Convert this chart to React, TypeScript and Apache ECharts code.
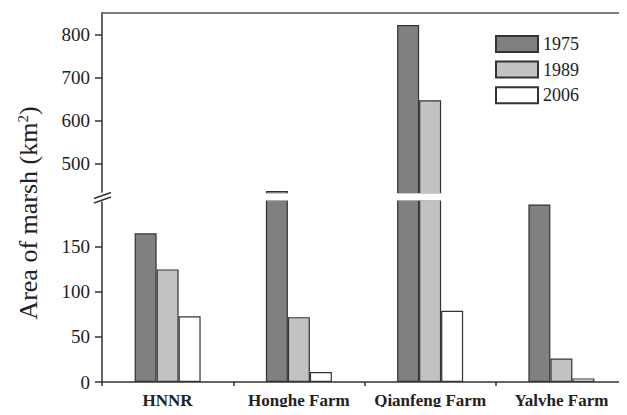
import React, { useEffect, useRef } from "react";
import * as echarts from "echarts";

const categories = ["HNNR", "Honghe Farm", "Qianfeng Farm", "Yalvhe Farm"];
const years = ["1975", "1989", "2006"];
const values1975 = [165, 437, 823, 197];
const values1989 = [125, 72, 648, 26];
const values2006 = [73, 11, 79, 4];
const upperTicks = [500, 600, 700, 800];
const lowerTicks = [0, 50, 100, 150];
const upperMin = 431;
const upperMax = 851;
const lowerMin = 0;
const lowerMax = 202;

const colors = ["#808080", "#c2c2c2", "#ffffff"];
const FONT = "'Liberation Serif', 'DejaVu Serif', serif";

export default function App() {
  const ref = useRef<HTMLDivElement>(null);
  useEffect(() => {
    if (!ref.current) return;
    const chart = echarts.init(ref.current, null, { renderer: "svg" });
    const all = [values1975, values1989, values2006];
    const series: any[] = [];
    all.forEach((vals, i) => {
      const style = { color: colors[i], borderColor: "#333", borderWidth: 1.2 };
      series.push({
        name: years[i],
        type: "bar",
        xAxisIndex: 0,
        yAxisIndex: 0,
        barWidth: 22,
        barGap: "0%",
        itemStyle: style,
        data: vals.map((v) => (v > upperMin ? v : "-")),
      });
      series.push({
        name: years[i],
        type: "bar",
        xAxisIndex: 1,
        yAxisIndex: 1,
        barWidth: 22,
        barGap: "0%",
        itemStyle: style,
        clip: true,
        data: vals.slice(),
      });
    });
    const axisLineStyle = { color: "#333", width: 1.5 };
    const labelStyle = { fontFamily: FONT, fontSize: 19, color: "#222" };
    chart.setOption({
      animation: false,
      backgroundColor: "#fff",
      grid: [
        { left: 102, right: -1, top: 13, height: 180.5 },
        { left: 102, right: -1, top: 200, height: 182 },
      ],
      legend: {
        orient: "vertical",
        left: 495,
        top: 35,
        padding: 0,
        itemWidth: 42,
        itemHeight: 16,
        itemGap: 7.6,
        icon: "rect",
        data: years,
        textStyle: { fontFamily: FONT, fontSize: 18, color: "#222" },
      },
      xAxis: [
        {
          type: "category",
          gridIndex: 0,
          data: categories,
          position: "top",
          axisLine: { show: true, onZero: false, lineStyle: { color: "#555", width: 1.5 } },
          axisTick: { show: false },
          axisLabel: { show: false },
        },
        {
          type: "category",
          gridIndex: 1,
          data: categories,
          position: "bottom",
          axisLine: { show: true, onZero: false, lineStyle: axisLineStyle },
          axisTick: { show: true, length: 4, lineStyle: axisLineStyle },
          axisLabel: {
            interval: 0,
            margin: 10,
            fontFamily: FONT,
            fontSize: 17,
            fontWeight: "bold",
            color: "#222",
          },
        },
      ],
      yAxis: [
        {
          type: "value",
          gridIndex: 0,
          min: upperMin,
          max: upperMax,
          splitLine: { show: false },
          axisLine: { show: true, lineStyle: axisLineStyle },
          axisTick: { show: true, length: 7, customValues: upperTicks, lineStyle: axisLineStyle },
          axisLabel: { ...labelStyle, margin: 12, customValues: upperTicks },
        },
        {
          type: "value",
          gridIndex: 1,
          min: lowerMin,
          max: lowerMax,
          splitLine: { show: false },
          axisLine: { show: true, lineStyle: axisLineStyle },
          axisTick: { show: true, length: 7, customValues: lowerTicks, lineStyle: axisLineStyle },
          axisLabel: { ...labelStyle, margin: 12, customValues: lowerTicks },
        },
      ],
      graphic: [
        {
          type: "rect",
          z: 100,
          shape: { x: 103, y: 193.3, width: 530, height: 7.2 },
          style: { fill: "#fff" },
        },
        {
          type: "rect",
          z: 100,
          shape: { x: 98, y: 192.5, width: 10, height: 9 },
          style: { fill: "#fff" },
        },
        {
          type: "line",
          z: 101,
          shape: { x1: 94, y1: 198.5, x2: 111, y2: 192.5 },
          style: { stroke: "#333", lineWidth: 1.5 },
        },
        {
          type: "line",
          z: 101,
          shape: { x1: 94, y1: 203, x2: 111, y2: 197 },
          style: { stroke: "#333", lineWidth: 1.5 },
        },
        {
          type: "text",
          z: 101,
          x: 28,
          y: 213,
          rotation: Math.PI / 2,
          style: {
            text: "{a|Area of marsh (km}{s|2}{a|)}",
            align: "center",
            verticalAlign: "middle",
            fill: "#222",
            rich: {
              a: { fontFamily: FONT, fontSize: 26, fill: "#222", verticalAlign: "bottom" },
              s: { fontFamily: FONT, fontSize: 15, fill: "#222", verticalAlign: "top" },
            },
          },
        },
      ],
      series,
    });
    return () => chart.dispose();
  }, []);
  return <div ref={ref} style={{ width: 627, height: 415, margin: -8 }} />;
}
